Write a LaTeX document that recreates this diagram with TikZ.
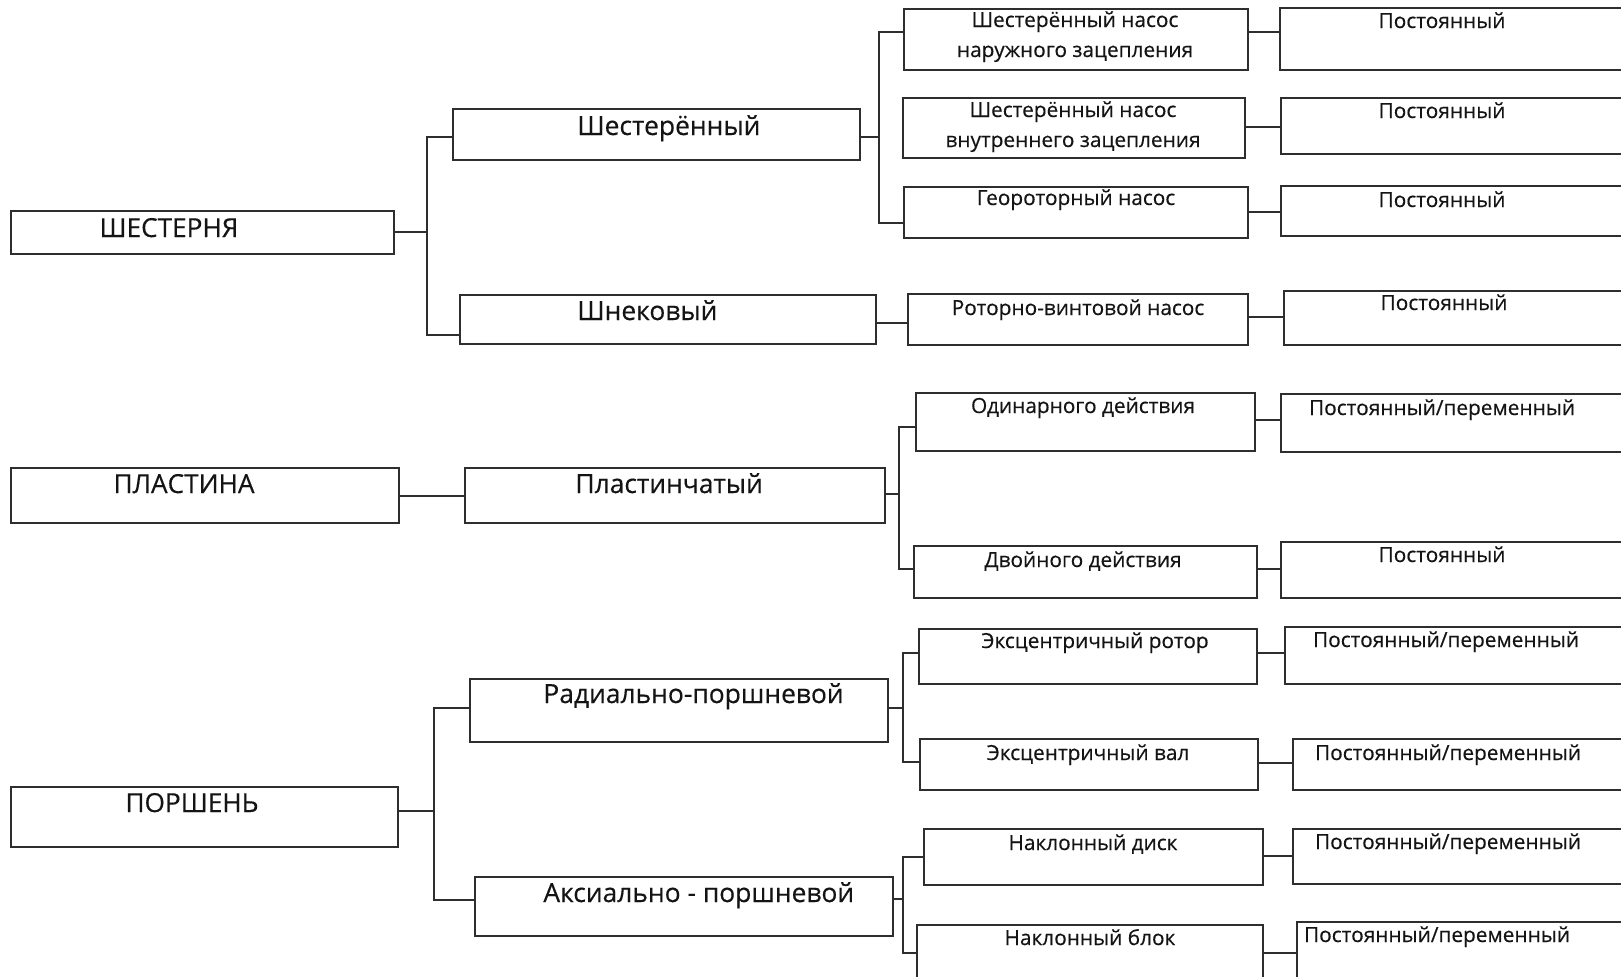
\documentclass[tikz,border=0pt]{standalone}
\usepackage{fontspec}
\setmainfont{Open Sans}
\newfontfamily\dtext[FakeBold=0.35]{Open Sans}
\definecolor{linec}{HTML}{2E2E2E}
\definecolor{txtc}{HTML}{141414}
\newcommand\mybox[5]{\node[boxst, minimum width={(#4-#2)*0.5pt}, minimum height={(#5-#3)*0.5pt}] (#1) at (#2,#3) {};}
\begin{document}
\begin{tikzpicture}[x=0.5pt,y=-0.5pt,
  boxst/.style={draw=linec, line width=1pt, inner sep=0pt, anchor=north west},
  conn/.style={draw=linec, line width=1pt},
  tone/.style={font=\dtext\fontsize{13.1}{15}\selectfont, text=txtc, inner sep=0pt, anchor=base},
  ttwo/.style={font=\dtext\fontsize{13.2}{15}\selectfont, text=txtc, inner sep=0pt, anchor=base west},
  tthr/.style={font=\dtext\fontsize{10.4}{12}\selectfont, text=txtc, inner sep=0pt, anchor=base},
]
\useasboundingbox (0,0) rectangle (1621,976);
\fill[white] (0,0) rectangle (1621,976);
\clip (0,0) rectangle (1621,976);
% level 1
\mybox{La}{10}{210}{393}{253}
\mybox{Lb}{10}{467}{398}{522}
\mybox{Lc}{10}{786}{397}{846}
% level 2
\mybox{Ma}{452}{108}{859}{159}
\mybox{Mb}{459}{294}{875}{343}
\mybox{Mc}{464}{467}{884}{522}
\mybox{Md}{469}{678}{887}{741}
\mybox{Me}{474}{876}{892}{935}
% level 3
\mybox{Na}{903}{8}{1247}{69}
\mybox{Nb}{902}{97}{1244}{157}
\mybox{Nc}{903}{186}{1247}{237}
\mybox{Nd}{907}{293}{1247}{344}
\mybox{Ne}{915}{392}{1254}{450}
\mybox{Nf}{913}{545}{1256}{597}
\mybox{Ng}{918}{628}{1256}{683}
\mybox{Nh}{919}{738}{1257}{789}
\mybox{Ni}{923}{828}{1262}{884}
\mybox{Nj}{916}{924}{1262}{990}
% level 4
\mybox{Pa}{1279}{7}{1640}{69}
\mybox{Pb}{1280}{97}{1640}{153}
\mybox{Pc}{1280}{185}{1640}{235}
\mybox{Pd}{1283}{290}{1640}{344}
\mybox{Pe}{1280}{393}{1640}{451}
\mybox{Pf}{1280}{541}{1640}{597}
\mybox{Pg}{1284}{626}{1640}{683}
\mybox{Ph}{1292}{738}{1640}{789}
\mybox{Pi}{1292}{828}{1640}{883}
\mybox{Pj}{1296}{921}{1640}{990}
% junctions
\coordinate (j1) at (427,232);
\coordinate (j2) at (434,811);
\coordinate (j3) at (879,137);
\coordinate (j4) at (899,494);
\coordinate (j5) at (903,708);
\coordinate (j6) at (903,899);
% connectors level 1 -> 2
\draw[conn] (La.east |- j1) -- (j1);
\draw[conn] (Ma.west |- 0,137) -| (j1) |- (Mb.west |- 0,335);
\draw[conn] (Lb.east) -- (Mc.west);
\draw[conn] (Lc.east |- j2) -- (j2);
\draw[conn] (Md.west |- 0,708) -| (j2) |- (Me.west |- 0,900);
% level 2 -> 3
\draw[conn] (Ma.east |- j3) -- (j3);
\draw[conn] (Na.west |- 0,32) -| (j3) |- (Nc.west |- 0,223);
\draw[conn] (Mb.east |- 0,323) -- (Nd.west |- 0,323);
\draw[conn] (Mc.east |- j4) -- (j4);
\draw[conn] (Ne.west |- 0,427) -| (j4) |- (Nf.west |- 0,569);
\draw[conn] (Md.east |- j5) -- (j5);
\draw[conn] (Ng.west |- 0,653) -| (j5) |- (Nh.west |- 0,762);
\draw[conn] (Me.east |- j6) -- (j6);
\draw[conn] (Ni.west |- 0,857) -| (j6) |- (Nj.west |- 0,953);
% level 3 -> 4
\draw[conn] (Na.east |- 0,32) -- (Pa.west |- 0,32);
\draw[conn] (Nb.east |- 0,127) -- (Pb.west |- 0,127);
\draw[conn] (Nc.east |- 0,212) -- (Pc.west |- 0,212);
\draw[conn] (Nd.east |- 0,317) -- (Pd.west |- 0,317);
\draw[conn] (Ne.east |- 0,420) -- (Pe.west |- 0,420);
\draw[conn] (Nf.east |- 0,569) -- (Pf.west |- 0,569);
\draw[conn] (Ng.east |- 0,653) -- (Pg.west |- 0,653);
\draw[conn] (Nh.east |- 0,763) -- (Ph.west |- 0,763);
\draw[conn] (Ni.east |- 0,856) -- (Pi.west |- 0,856);
\draw[conn] (Nj.east |- 0,953) -- (Pj.west |- 0,953);
% texts level 1
\node[tone] (tLa) at (169,237) {ШЕСТЕРНЯ};
\node[tone] (tLb) at (184,493) {ПЛАСТИНА};
\node[tone] (tLc) at (192,812) {ПОРШЕНЬ};
% texts level 2
\node[ttwo] (tMa) at (577,135) {Шестерённый};
\node[ttwo] (tMb) at (577,320) {Шнековый};
\node[ttwo] (tMc) at (575,493) {Пластинчатый};
\node[ttwo] (tMd) at (543,703) {Радиально-поршневой};
\node[ttwo] (tMe) at (543,902) {Аксиально - поршневой};
% texts level 3
\node[tthr] (tNa1) at (1075,27) {Шестерённый насос};
\node[tthr] (tNa2) at (1075,57) {наружного зацепления};
\node[tthr] (tNb1) at (1073,117) {Шестерённый насос};
\node[tthr] (tNb2) at (1073,147) {внутреннего зацепления};
\node[tthr] (tNc) at (1076,205) {Геороторный насос};
\node[tthr] (tNd) at (1078,315) {Роторно-винтовой насос};
\node[tthr] (tNe) at (1083,413) {Одинарного действия};
\node[tthr] (tNf) at (1083,567) {Двойного действия};
\node[tthr] (tNg) at (1095,648) {Эксцентричный ротор};
\node[tthr] (tNh) at (1088,760) {Эксцентричный вал};
\node[tthr] (tNi) at (1093,850) {Наклонный диск};
\node[tthr] (tNj) at (1090,945) {Наклонный блок};
% texts level 4
\node[tthr] (tPa) at (1442,28) {Постоянный};
\node[tthr] (tPb) at (1442,118) {Постоянный};
\node[tthr] (tPc) at (1442,207) {Постоянный};
\node[tthr] (tPd) at (1444,310) {Постоянный};
\node[tthr] (tPe) at (1442,415) {Постоянный/переменный};
\node[tthr] (tPf) at (1442,562) {Постоянный};
\node[tthr] (tPg) at (1446,647) {Постоянный/переменный};
\node[tthr] (tPh) at (1448,760) {Постоянный/переменный};
\node[tthr] (tPi) at (1448,849) {Постоянный/переменный};
\node[tthr] (tPj) at (1437,942) {Постоянный/переменный};
\end{tikzpicture}
\end{document}
